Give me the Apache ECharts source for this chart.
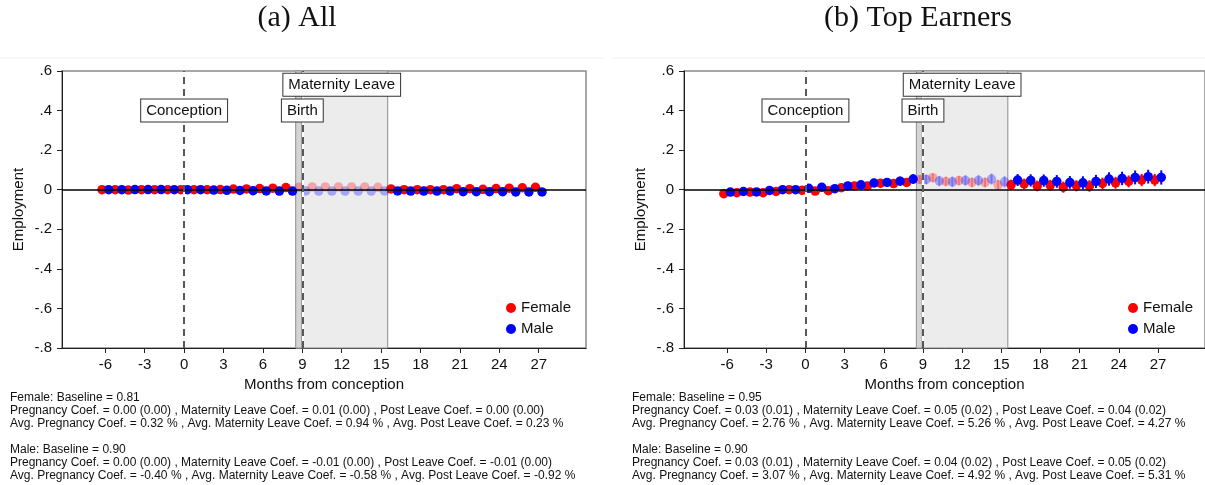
<!DOCTYPE html>
<html>
<head>
<meta charset="utf-8">
<script src="https://cdn.jsdelivr.net/npm/echarts@6/dist/echarts.min.js"></script>
<style>
  html, body { margin: 0; padding: 0; background: #fff; }
  #chart { width: 1205px; height: 485px; }
</style>
</head>
<body>
<div id="chart"></div>
<script>
// Months relative to conception
const months = [-6, -5, -4, -3, -2, -1, 0, 1, 2, 3, 4, 5, 6, 7, 8, 9, 10, 11, 12, 13, 14, 15,
  16, 17, 18, 19, 20, 21, 22, 23, 24, 25, 26, 27];
const xTicks = [-6, -3, 0, 3, 6, 9, 12, 15, 18, 21, 24, 27];
const yTicks = [-0.8, -0.6, -0.4, -0.2, 0, 0.2, 0.4, 0.6];

// Panel (a): all workers
const femaleAll = [0.000, 0.000, -0.002, 0.000, 0.000, 0.000, 0.000, 0.000, 0.000, 0.001, 0.003, 0.004, 0.006, 0.008, 0.011,
  0.013, 0.014, 0.014, 0.014, 0.014, 0.014, 0.012,
  0.004, 0.000, 0.000, 0.000, 0.000, 0.005, 0.005, 0.002, 0.006, 0.008, 0.010, 0.012];
const maleAll = [0.000, 0.000, 0.001, 0.001, 0.001, 0.000, 0.000, 0.000, -0.002, -0.003, -0.004, -0.005, -0.006, -0.007, -0.007,
  -0.006, -0.007, -0.007, -0.007, -0.007, -0.007, -0.006,
  -0.006, -0.007, -0.007, -0.007, -0.007, -0.010, -0.010, -0.010, -0.010, -0.011, -0.011, -0.011];

// Panel (b): top earners, point estimates and 95% CI half-widths
const femaleTop = [-0.020, -0.015, -0.012, -0.015, -0.009, 0.000, -0.003, -0.007, -0.005, 0.010, 0.019, 0.019, 0.033, 0.031, 0.037,
  0.051, 0.061, 0.042, 0.046, 0.037, 0.037, 0.025,
  0.025, 0.029, 0.019, 0.022, 0.013, 0.020, 0.019, 0.032, 0.035, 0.042, 0.049, 0.049];
const maleTop = [-0.012, -0.009, -0.011, -0.004, 0.000, 0.000, 0.007, 0.012, 0.005, 0.019, 0.025, 0.034, 0.037, 0.043, 0.054,
  0.052, 0.044, 0.040, 0.047, 0.047, 0.054, 0.040,
  0.049, 0.047, 0.046, 0.042, 0.037, 0.035, 0.042, 0.054, 0.057, 0.062, 0.066, 0.062];
const femaleTopCI = [0.018, 0.017, 0.016, 0.015, 0.012, 0.008, 0.012, 0.014, 0.015, 0.016, 0.018, 0.019, 0.020, 0.021, 0.022,
  0.022, 0.023, 0.024, 0.024, 0.025, 0.025, 0.026,
  0.026, 0.027, 0.027, 0.028, 0.028, 0.028, 0.029, 0.029, 0.030, 0.030, 0.031, 0.031];
const maleTopCI = [0.019, 0.018, 0.017, 0.016, 0.013, 0.008, 0.013, 0.015, 0.016, 0.018, 0.020, 0.021, 0.022, 0.023, 0.024,
  0.025, 0.026, 0.027, 0.027, 0.028, 0.028, 0.029,
  0.030, 0.031, 0.031, 0.032, 0.032, 0.033, 0.033, 0.034, 0.034, 0.035, 0.035, 0.036];

// Event markers
const conceptionMonth = 0;
const birthMonth = 9;
const leaveStart = 8.5;
const leaveEnd = 15.5;

const panelTitles = ['(a) All', '(b) Top Earners'];
const notesAll = [
  'Female: Baseline = 0.81',
  'Pregnancy Coef. = 0.00 (0.00) , Maternity Leave Coef. = 0.01 (0.00) , Post Leave Coef. = 0.00 (0.00)',
  'Avg. Pregnancy Coef. = 0.32 % , Avg. Maternity Leave Coef. = 0.94 % , Avg. Post Leave Coef. = 0.23 %',
  '',
  'Male: Baseline = 0.90',
  'Pregnancy Coef. = 0.00 (0.00) , Maternity Leave Coef. = -0.01 (0.00) , Post Leave Coef. = -0.01 (0.00)',
  'Avg. Pregnancy Coef. = -0.40 % , Avg. Maternity Leave Coef. = -0.58 % , Avg. Post Leave Coef. = -0.92 %'
];
const notesTop = [
  'Female: Baseline = 0.95',
  'Pregnancy Coef. = 0.03 (0.01) , Maternity Leave Coef. = 0.05 (0.02) , Post Leave Coef. = 0.04 (0.02)',
  'Avg. Pregnancy Coef. = 2.76 % , Avg. Maternity Leave Coef. = 5.26 % , Avg. Post Leave Coef. = 4.27 %',
  '',
  'Male: Baseline = 0.90',
  'Pregnancy Coef. = 0.03 (0.01) , Maternity Leave Coef. = 0.04 (0.02) , Post Leave Coef. = 0.05 (0.02)',
  'Avg. Pregnancy Coef. = 3.07 % , Avg. Maternity Leave Coef. = 4.92 % , Avg. Post Leave Coef. = 5.31 %'
];

const RED = '#ff0000';
const BLUE = '#0000ff';
const FADE = 0.3;
const DODGE = 0.25;
const SANS = 'Liberation Sans, Arial, sans-serif';

const inLeave = m => m > leaveStart && m < leaveEnd;

function points(values, offset, leave) {
  const out = [];
  values.forEach((v, i) => {
    if (inLeave(months[i]) === leave) out.push([months[i] + offset, v]);
  });
  return out;
}
function intervals(values, half, offset, leave) {
  const out = [];
  values.forEach((v, i) => {
    if (inLeave(months[i]) === leave) out.push([months[i] + offset, v - half[i], v + half[i]]);
  });
  return out;
}

function fmtY(v) {
  const r = Math.round(v * 10) / 10;
  if (r === 0) return '0';
  return (r < 0 ? '-' : '') + Math.abs(r).toFixed(1).replace(/^0/, '');
}

function scatter(name, data, color, gi, faded) {
  return {
    name: name, type: 'scatter', xAxisIndex: gi, yAxisIndex: gi,
    data: data, symbol: 'circle', symbolSize: 9.5, z: 4,
    itemStyle: { color: color, opacity: faded ? FADE : 1 },
    emphasis: { disabled: true }, silent: true
  };
}

function errorBars(name, data, color, gi, faded) {
  return {
    name: name, type: 'custom', xAxisIndex: gi, yAxisIndex: gi, z: 4,
    data: data, encode: { x: 0, y: [1, 2] }, silent: true,
    renderItem: function (params, api) {
      const a = api.coord([api.value(0), api.value(1)]);
      const b = api.coord([api.value(0), api.value(2)]);
      return {
        type: 'line',
        shape: { x1: a[0], y1: a[1], x2: b[0], y2: b[1] },
        style: { stroke: color, lineWidth: 2, opacity: faded ? FADE : 1 }
      };
    }
  };
}

const boxLabel = {
  show: true, position: 'inside', formatter: '{b}',
  color: '#111', fontFamily: SANS, fontSize: 15,
  backgroundColor: '#fff', borderColor: '#333', borderWidth: 1,
  padding: [4, 5, 3, 5]
};

function decorations(gi) {
  return [
    { // maternity-leave shading
      type: 'scatter', xAxisIndex: gi, yAxisIndex: gi, data: [], z: 1, silent: true,
      markArea: {
        silent: true,
        itemStyle: { color: '#ececec', borderColor: '#8c8c8c', borderWidth: 1 },
        data: [
          [{ xAxis: leaveStart }, { xAxis: leaveEnd }],
          [{ xAxis: leaveStart, itemStyle: { color: '#d4d4d4', borderColor: '#9a9a9a', borderWidth: 1 } }, { xAxis: birthMonth - 0.06 }]
        ]
      }
    },
    { // zero line and event lines
      type: 'scatter', xAxisIndex: gi, yAxisIndex: gi, data: [], z: 2, silent: true,
      markLine: {
        silent: true, symbol: 'none', label: { show: false },
        data: [
          { yAxis: 0, lineStyle: { color: '#000', width: 1.5, type: 'solid' } },
          { xAxis: conceptionMonth, lineStyle: { color: '#fff', width: 2, type: 'solid' } },
          { xAxis: birthMonth, lineStyle: { color: '#fff', width: 2, type: 'solid' } },
          { xAxis: conceptionMonth, lineStyle: { color: '#222', width: 1.5, type: [7, 5] } },
          { xAxis: birthMonth, lineStyle: { color: '#222', width: 1.5, type: [7, 5] } }
        ]
      }
    },
    { // event labels
      type: 'scatter', xAxisIndex: gi, yAxisIndex: gi, data: [], z: 6, silent: true,
      markPoint: {
        silent: true, symbol: 'rect', symbolSize: 0,
        label: boxLabel,
        data: [
          { name: 'Conception', coord: [conceptionMonth, 0.4] },
          { name: 'Birth', coord: [birthMonth, 0.4] },
          { name: 'Maternity Leave', coord: [12, 0.53] }
        ]
      }
    }
  ];
}

const grids = [
  { left: 62, top: 71, width: 524, height: 277 },
  { left: 684, top: 71, width: 524, height: 277 }
];

function xAxis(gi) {
  return {
    type: 'value', gridIndex: gi, min: -9.3, max: 30.6,
    name: 'Months from conception', nameLocation: 'middle', nameGap: 25,
    nameTextStyle: { color: '#111', fontFamily: SANS, fontSize: 15 },
    axisLine: { show: true, onZero: false, lineStyle: { color: '#222', width: 1 } },
    axisTick: { show: true, length: 5, customValues: xTicks, lineStyle: { color: '#222' } },
    axisLabel: { customValues: xTicks, margin: 9, color: '#111', fontFamily: SANS, fontSize: 15 },
    splitLine: { show: false }
  };
}
function yAxis(gi) {
  return {
    type: 'value', gridIndex: gi, min: -0.8, max: 0.6,
    name: 'Employment', nameLocation: 'middle', nameGap: 36, nameRotate: 90,
    nameTextStyle: { color: '#111', fontFamily: SANS, fontSize: 15 },
    axisLine: { show: true, onZero: false, lineStyle: { color: '#222', width: 1 } },
    axisTick: { show: true, length: 5, customValues: yTicks, lineStyle: { color: '#222' } },
    axisLabel: { customValues: yTicks, margin: 10, formatter: fmtY, color: '#111', fontFamily: SANS, fontSize: 15 },
    splitLine: { show: false }
  };
}

function legend(left) {
  return {
    data: ['Female', 'Male'], orient: 'vertical', left: left, top: 295,
    icon: 'circle', itemWidth: 10, itemHeight: 10, itemGap: 5,
    selectedMode: false,
    textStyle: { color: '#111', fontFamily: SANS, fontSize: 15, lineHeight: 16 }
  };
}

function noteText(lines, x) {
  const els = [];
  let y = 392;
  lines.forEach(t => {
    if (t === '') { y += 13; return; }
    els.push({ type: 'text', left: x, top: y, silent: true,
      style: { text: t, fill: '#111', font: '12px ' + SANS } });
    y += 13;
  });
  return els;
}

const series = [
  ...decorations(0),
  scatter('Female', points(femaleAll, -DODGE, false), RED, 0, false),
  scatter('Female', points(femaleAll, -DODGE, true), RED, 0, true),
  scatter('Male', points(maleAll, DODGE, false), BLUE, 0, false),
  scatter('Male', points(maleAll, DODGE, true), BLUE, 0, true),
  ...decorations(1),
  errorBars('Female CI', intervals(femaleTop, femaleTopCI, -DODGE, false), RED, 1, false),
  errorBars('Female CI', intervals(femaleTop, femaleTopCI, -DODGE, true), RED, 1, true),
  scatter('Female', points(femaleTop, -DODGE, false), RED, 1, false),
  scatter('Female', points(femaleTop, -DODGE, true), RED, 1, true),
  errorBars('Male CI', intervals(maleTop, maleTopCI, DODGE, false), BLUE, 1, false),
  errorBars('Male CI', intervals(maleTop, maleTopCI, DODGE, true), BLUE, 1, true),
  scatter('Male', points(maleTop, DODGE, false), BLUE, 1, false),
  scatter('Male', points(maleTop, DODGE, true), BLUE, 1, true)
];

const chart = echarts.init(document.getElementById('chart'), null, { renderer: 'canvas' });
chart.setOption({
  backgroundColor: '#fff',
  animation: false,
  grid: grids.map(g => Object.assign({ show: true, borderColor: '#8a8a8a', borderWidth: 1.5, backgroundColor: 'transparent' }, g)),
  xAxis: [xAxis(0), xAxis(1)],
  yAxis: [yAxis(0), yAxis(1)],
  legend: [legend(501), legend(1123)],
  series: series,
  graphic: [
    { type: 'line', silent: true, shape: { x1: 0, y1: 58, x2: 603, y2: 58 }, style: { stroke: '#f1f1f1', lineWidth: 1 } },
    { type: 'line', silent: true, shape: { x1: 613, y1: 58, x2: 1205, y2: 58 }, style: { stroke: '#f1f1f1', lineWidth: 1 } },
    { type: 'text', x: 297, y: 18, silent: true,
      style: { text: panelTitles[0], fill: '#111', font: '30px Liberation Serif, serif', textAlign: 'center', textVerticalAlign: 'middle' } },
    { type: 'text', x: 918, y: 18, silent: true,
      style: { text: panelTitles[1], fill: '#111', font: '30px Liberation Serif, serif', textAlign: 'center', textVerticalAlign: 'middle' } },
    ...noteText(notesAll, 10),
    ...noteText(notesTop, 632)
  ]
});
</script>
</body>
</html>
